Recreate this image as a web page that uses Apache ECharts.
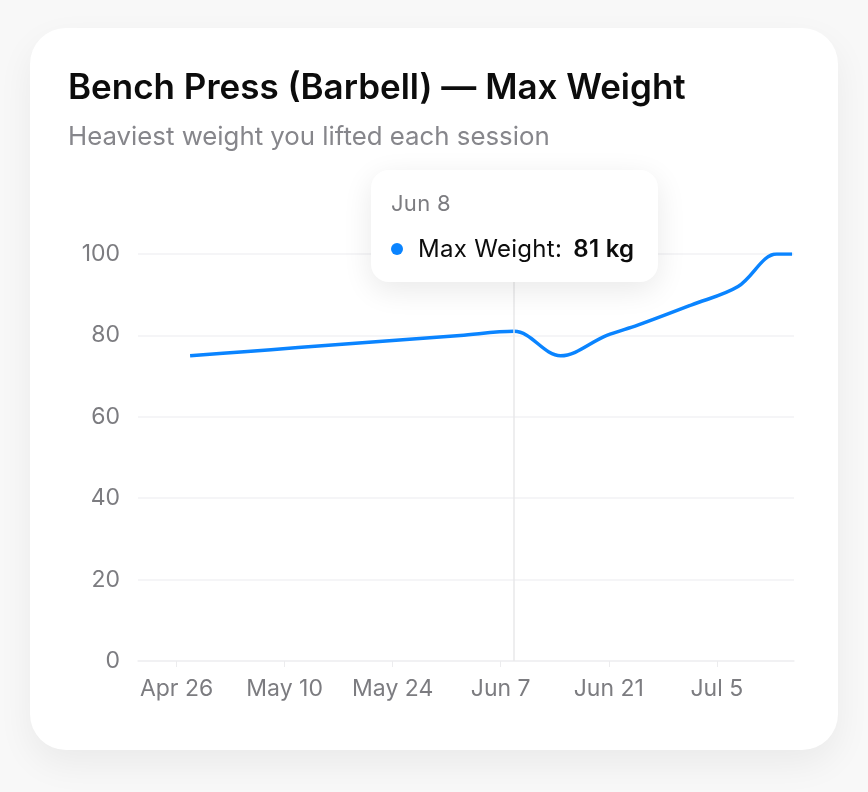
<!DOCTYPE html>
<html>
<head>
<meta charset="utf-8">
<script src="https://cdn.jsdelivr.net/npm/echarts@6/dist/echarts.min.js"></script>
<style>
  html, body { margin: 0; padding: 0; background: #f8f8f8; }
  body { width: 868px; height: 792px; position: relative; overflow: hidden; }
  #card {
    position: absolute; left: 30px; top: 28px; width: 808px; height: 722px;
    background: #fff; border-radius: 36px;
    box-shadow: 0 14px 36px rgba(0,0,0,0.06);
  }
</style>
</head>
<body>
<div id="card"></div>
<script>
// sessions (evening workouts) and heaviest lift in kg
var sessionDates = ['2025-04-27 18:00', '2025-05-04 18:00', '2025-05-11 18:00', '2025-05-18 18:00',
                    '2025-05-25 18:00', '2025-06-01 18:00', '2025-06-08 18:00', '2025-06-14 18:00',
                    '2025-06-20 18:00', '2025-06-24 18:00', '2025-07-01 18:00', '2025-07-07 18:00',
                    '2025-07-12 18:00', '2025-07-14 18:00'];
var maxWeights = [75, 76, 77, 78, 79, 80, 81, 75, 80, 82.5, 87.5, 92, 100, 100];

var tickDates = ['2025-04-26', '2025-05-10', '2025-05-24', '2025-06-07', '2025-06-21', '2025-07-05'];
var axisStart = '2025-04-21';
var axisEnd = '2025-07-15';
var tipIndex = 6;

var months = ['Jan','Feb','Mar','Apr','May','Jun','Jul','Aug','Sep','Oct','Nov','Dec'];
function toTime(s) { return echarts.number.parseDate(s).getTime(); }
function shortDate(v) { var d = new Date(v); return months[d.getMonth()] + ' ' + d.getDate(); }

var tickValues = tickDates.map(toTime);
var seriesData = sessionDates.map(function (d, i) { return [toTime(d), maxWeights[i]]; });

var chart = echarts.init(document.getElementById('card'));
var fontFam = 'Inter, "Noto Sans", sans-serif';

chart.setOption({
  animation: false,
  textStyle: { fontFamily: fontFam },
  title: [{
    text: 'Bench Press (Barbell) \u2014 Max Weight',
    left: 38, top: 43, padding: 0,
    textStyle: { fontSize: 35, fontWeight: 600, color: '#0c0c0c', fontFamily: fontFam }
  }, {
    text: 'Heaviest weight you lifted each session',
    left: 38, top: 96, padding: 0,
    textStyle: { fontSize: 25.8, fontWeight: 400, color: '#86868b', fontFamily: fontFam }
  }],
  grid: { left: 108, right: 44, top: 226, bottom: 89 },
  tooltip: {
    trigger: 'axis',
    triggerOn: 'none',
    alwaysShowContent: true,
    backgroundColor: '#fff',
    borderWidth: 0,
    padding: [20, 24, 18, 20],
    extraCssText: 'border-radius:18px; box-shadow:0 8px 30px rgba(0,0,0,0.09);',
    axisPointer: { type: 'line', label: { show: false }, lineStyle: { color: '#e8e8ea', width: 1.5, type: 'solid' } },
    position: function (pt, params, dom, rect, size) {
      return [pt[0] - size.contentSize[0] / 2, 142];
    },
    formatter: function (params) {
      var p = params[0];
      return '<div style="font-family:' + fontFam.replace(/"/g, "'") + ';letter-spacing:0.3px;">' +
        '<div style="color:#7c7c80;font-size:22px;line-height:26px;">' + shortDate(p.value[0]) + '</div>' +
        '<div style="margin-top:18px;display:flex;align-items:center;font-size:24px;line-height:30px;color:#0c0c0c;">' +
        '<span style="display:inline-block;width:12px;height:12px;border-radius:6px;background:#0a84ff;"></span>' +
        '<span style="margin-left:15px;">Max Weight:</span>' +
        '<span style="margin-left:11px;font-weight:600;">' + p.value[1] + ' kg</span></div></div>';
    }
  },
  xAxis: {
    type: 'value',
    min: toTime(axisStart),
    max: toTime(axisEnd),
    axisLine: { lineStyle: { color: '#f0f0f2', width: 1.5 } },
    axisTick: { show: true, length: 6, customValues: tickValues, lineStyle: { color: '#ececee' } },
    axisLabel: {
      customValues: tickValues,
      color: '#7c7c80', fontSize: 23, margin: 17,
      formatter: function (v) { return shortDate(v); }
    },
    splitLine: { show: false }
  },
  yAxis: {
    type: 'value',
    min: 0, max: 100, interval: 20,
    axisLine: { show: false },
    axisTick: { show: false },
    axisLabel: { color: '#7c7c80', fontSize: 23, margin: 18 },
    splitLine: { lineStyle: { color: '#f2f2f4', width: 1.5 } }
  },
  series: [{
    name: 'Max Weight',
    type: 'line',
    data: seriesData,
    smooth: 0.35,
    symbol: 'none',
    lineStyle: { color: '#0a84ff', width: 3.5 },
    itemStyle: { color: '#0a84ff' },
    emphasis: { disabled: true }
  }]
});

chart.dispatchAction({ type: 'showTip', seriesIndex: 0, dataIndex: tipIndex });
</script>
</body>
</html>
